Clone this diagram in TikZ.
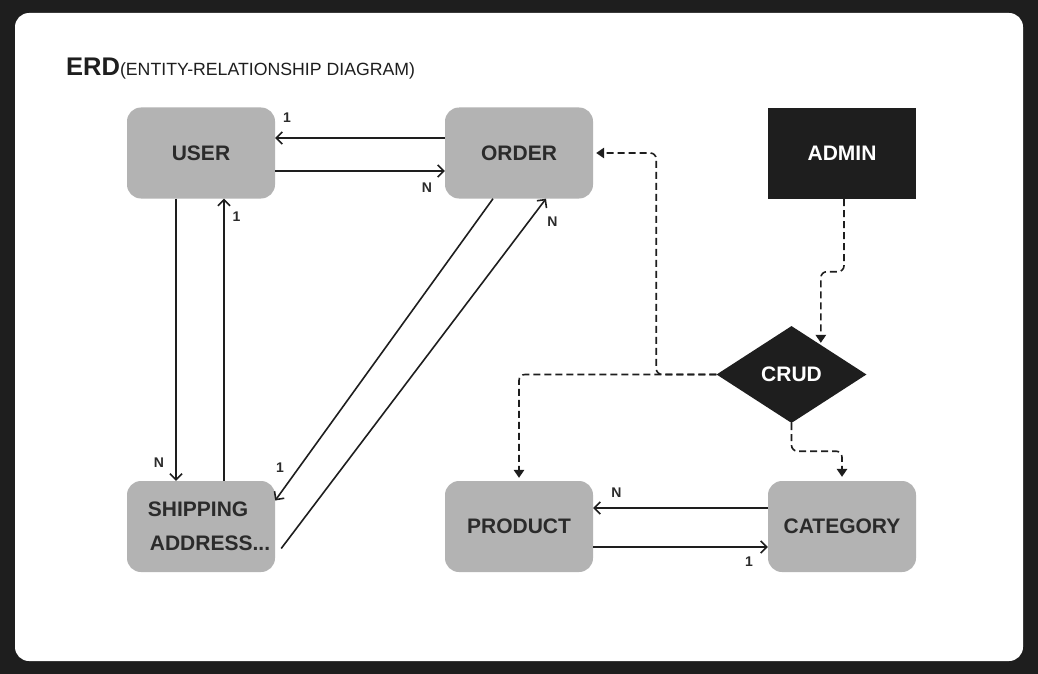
\documentclass[tikz,border=0pt]{standalone}
\usepackage{fontspec}
\setmainfont{Liberation Sans}
\usetikzlibrary{shapes.geometric,arrows.meta,calc}
\definecolor{bgdark}{HTML}{1E1E1E}
\definecolor{boxgray}{HTML}{B3B3B3}
\definecolor{ink}{HTML}{2B2B2B}
\definecolor{inkline}{HTML}{1E1E1E}
\begin{document}
\begin{tikzpicture}[x=1pt,y=-1pt,
 entity/.style={rectangle, rounded corners=14pt, fill=boxgray, minimum width=148pt, minimum height=91pt, inner sep=0pt, text=ink, font=\fontsize{21}{34}\selectfont\bfseries},
 adminbox/.style={rectangle, fill=bgdark, minimum width=148pt, minimum height=91pt, inner sep=0pt, text=white, font=\fontsize{21}{21}\selectfont\bfseries},
 rel/.style={diamond, fill=bgdark, minimum width=150pt, minimum height=97pt, inner sep=0pt, text=white, font=\fontsize{21}{21}\selectfont\bfseries},
 link/.style={draw=inkline, line width=1.6pt, -{Straight Barb[length=6pt,width=12pt]}},
 dlink/.style={draw=inkline, line width=1.6pt, dash pattern=on 7pt off 4pt, rounded corners=6pt, -{Triangle[length=8pt,width=10.5pt]}},
 lbl/.style={text=ink, font=\fontsize{14}{14}\selectfont\bfseries, inner sep=0pt}
]
\useasboundingbox (0,0) rectangle (1038,674);
\fill[bgdark] (0,0) rectangle (1038,674);
\fill[white, rounded corners=14pt] (15,13) rectangle (1023,661);

\node[anchor=base west, inner sep=0pt, text=bgdark] (title) at (66,75.5)
 {{\fontsize{25.5}{25}\selectfont\bfseries ERD}{\fontsize{17.7}{17}\selectfont(ENTITY-RELATIONSHIP DIAGRAM)}};

\node[entity] (user) at (201,153) {USER};
\node[entity] (order) at (519,153) {ORDER};
\node[adminbox] (admin) at (842,153.5) {ADMIN};
\node[rel] (crud) at (791.5,374.5) {CRUD};
\node[entity, align=left] (ship) at (201,526.5) {\hspace*{16pt}SHIPPING\\\hspace*{18pt}ADDRESS...};
\node[entity] (product) at (519,526.5) {PRODUCT};
\node[entity] (category) at (842,526.5) {CATEGORY};

% solid relationships
\draw[link] ([yshift=15pt]order.west) -- ([yshift=15pt]user.east);
\draw[link] ([yshift=-18pt]user.east) -- ([yshift=-18pt]order.west);
\draw[link] ([xshift=-25pt]user.south) -- ([xshift=-25pt]ship.north);
\draw[link] ([xshift=23pt]ship.north) -- ([xshift=23pt]user.south);
\draw[link] ([xshift=-26pt]order.south) -- ([yshift=26pt]ship.east);
\draw[link] ([xshift=6pt,yshift=-22pt]ship.east) -- ([xshift=27pt]order.south);
\draw[link] ([yshift=18.5pt]category.west) -- ([yshift=18.5pt]product.east);
\draw[link] ([yshift=-20.5pt]product.east) -- ([yshift=-20.5pt]category.west);

% dashed admin paths
\coordinate (c1) at ($(crud.north)!0.39!(crud.east)$);
\draw[dlink, shorten >=2pt] ([xshift=2pt]admin.south) -- ++(0,72.5) -| (c1);
\draw[dlink] (crud.west) -| ([xshift=63pt]order.east) -- ([xshift=3pt]order.east);
\draw[dlink] (crud.west) -| ([yshift=3pt]product.north);
\draw[dlink] (crud.south) -- ++(0,28) -| ([yshift=4pt]category.north);

% cardinality labels
\node[lbl] (l1) at (287,118) {1};
\node[lbl] (l2) at (427,188) {N};
\node[lbl] (l3) at (159,462.5) {N};
\node[lbl] (l4) at (236.5,216.5) {1};
\node[lbl] (l5) at (280,467.5) {1};
\node[lbl] (l6) at (552.5,222) {N};
\node[lbl] (l7) at (616.5,492.5) {N};
\node[lbl] (l8) at (749,561.5) {1};
\end{tikzpicture}
\end{document}
